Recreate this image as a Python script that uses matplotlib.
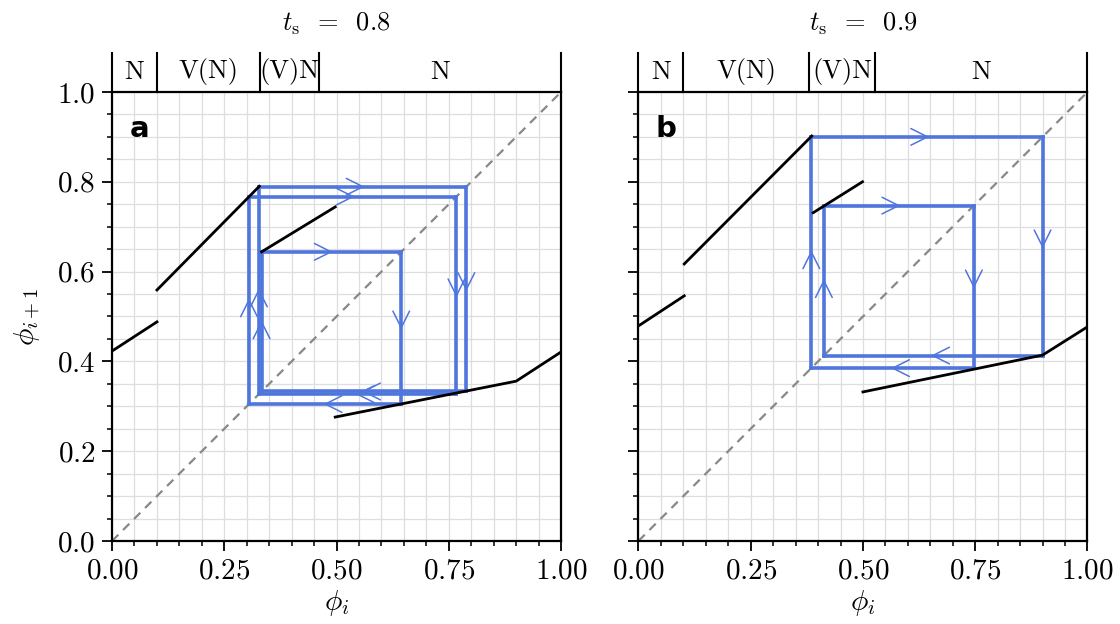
import numpy as np
import matplotlib
matplotlib.use("Agg")
import matplotlib.pyplot as plt
from matplotlib.ticker import MultipleLocator, FixedLocator

plt.rcParams['mathtext.fontset'] = 'cm'
plt.rcParams['font.family'] = 'serif'
plt.rcParams['font.serif'] = ['cmr10', 'DejaVu Serif']
plt.rcParams['axes.formatter.use_mathtext'] = True

# ------------------------------------------------------------
# data: return map branches, periodic orbits, regime bands
# ------------------------------------------------------------
ts_values = [0.8, 0.9]
panel_tags = ['a', 'b']

# branches of phi_{i+1}(phi_i), one list of x / y per branch
map_a_x = [[0.0, 0.1], [0.1, 0.328], [0.333, 0.497], [0.497, 0.9, 1.0]]
map_a_y = [[0.423, 0.488], [0.559, 0.790], [0.644, 0.744], [0.276, 0.356, 0.421]]
map_b_x = [[0.0, 0.102], [0.102, 0.386], [0.389, 0.499], [0.5, 0.9, 1.0]]
map_b_y = [[0.479, 0.546], [0.617, 0.902], [0.731, 0.800], [0.332, 0.414, 0.477]]

# periodic orbits (one period each)
orbit_a = [0.305, 0.767, 0.327, 0.789, 0.333, 0.644]
orbit_b = [0.385, 0.900, 0.413, 0.747]

# regime bands above the plot
band_a_edges = [0.0, 0.1, 0.33, 0.46, 1.0]
band_b_edges = [0.0, 0.1, 0.38, 0.527, 1.0]
band_labels = ['N', 'V(N)', '(V)N', 'N']

x_ticks = [0.0, 0.25, 0.5, 0.75, 1.0]
x_tick_labels = ['0.00', '0.25', '0.50', '0.75', '1.00']
y_ticks = [0.0, 0.2, 0.4, 0.6, 0.8, 1.0]
y_tick_labels = ['0.0', '0.2', '0.4', '0.6', '0.8', '1.0']

BLUE = '#4f76dd'
FS = 21


def cobweb(orbit):
    # staircase path through the diagonal for a closed orbit
    n = len(orbit)
    segs = []
    for i in range(n):
        a, b = orbit[i], orbit[(i + 1) % n]
        segs.append(((a, a), (a, b)))   # vertical
        segs.append(((a, b), (b, b)))   # horizontal
    return segs


def draw_panel(ax, mx, my, orbit, edges, ts, tag, show_ylabels):
    ax.set_xlim(0, 1)
    ax.set_ylim(0, 1)
    ax.set_aspect('equal')

    ax.xaxis.set_minor_locator(MultipleLocator(0.05))
    ax.yaxis.set_minor_locator(MultipleLocator(0.05))
    ax.grid(which='both', color='#dedede', lw=0.9, zorder=0)
    ax.set_axisbelow(True)

    ax.plot([0, 1], [0, 1], ls=(0, (4, 3)), color='#888888', lw=1.6, zorder=1)

    for xs, ys in zip(mx, my):
        ax.plot(xs, ys, color='black', lw=2.0, zorder=3)

    for (x0, y0), (x1, y1) in cobweb(orbit):
        ax.plot([x0, x1], [y0, y1], color=BLUE, lw=2.6, zorder=2,
                solid_capstyle='projecting')
        xm, ym = (x0 + x1) / 2, (y0 + y1) / 2
        dx, dy = (x1 - x0) * 0.01, (y1 - y0) * 0.01
        ax.annotate('', xy=(xm + dx, ym + dy), xytext=(xm - dx, ym - dy),
                    arrowprops=dict(arrowstyle='->,head_length=0.6,head_width=0.3',
                                    color=BLUE, lw=1.1, mutation_scale=20),
                    zorder=4)

    # regime band
    for e in edges:
        ax.plot([e, e], [1.0, 1.087], color='black', lw=1.5, clip_on=False)
    for lo, hi, lab in zip(edges[:-1], edges[1:], band_labels):
        ax.text((lo + hi) / 2, 1.045, lab, ha='center', va='center',
                fontsize=FS - 2)

    ax.text(0.5, 1.152, r'$t_\mathrm{s}\;\;=\;\;%.1f$' % ts, transform=ax.transAxes,
            ha='center', va='center', fontsize=FS - 2)
    ax.text(0.062, 0.918, tag, transform=ax.transAxes, ha='center', va='center',
            fontsize=FS, fontweight='bold', family='DejaVu Sans')

    ax.xaxis.set_major_locator(FixedLocator(x_ticks))
    ax.set_xticklabels(['$%s$' % t for t in x_tick_labels])
    ax.yaxis.set_major_locator(FixedLocator(y_ticks))
    if show_ylabels:
        ax.set_yticklabels(['$%s$' % t for t in y_tick_labels])
        ax.set_ylabel(r'$\phi_{i+1}$', fontsize=FS, labelpad=10)
    else:
        ax.set_yticklabels([])
    ax.set_xlabel(r'$\phi_i$', fontsize=FS, labelpad=3)

    ax.tick_params(which='major', length=7, width=1.3, labelsize=FS, pad=5)
    ax.tick_params(which='minor', length=3.8, width=1.1)
    for sp in ax.spines.values():
        sp.set_linewidth(1.6)


fig = plt.figure(figsize=(11.2, 6.24), dpi=100)
ax_a = fig.add_axes([0.1, 0.133, 0.401, 0.7196])
ax_b = fig.add_axes([0.5696, 0.133, 0.4018, 0.7196])

draw_panel(ax_a, map_a_x, map_a_y, orbit_a, band_a_edges, ts_values[0], panel_tags[0], True)
draw_panel(ax_b, map_b_x, map_b_y, orbit_b, band_b_edges, ts_values[1], panel_tags[1], False)

fig.savefig('out.png', dpi=100)
